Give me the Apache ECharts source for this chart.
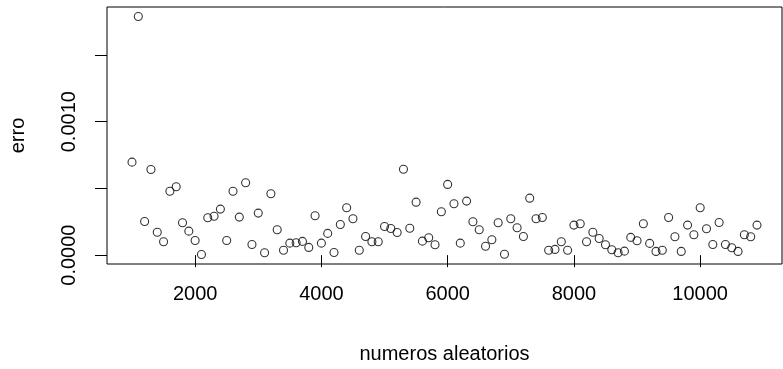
<!DOCTYPE html>
<html>
<head>
<meta charset="utf-8">
<script src="https://cdn.jsdelivr.net/npm/echarts@6/dist/echarts.min.js"></script>
<style>html,body{margin:0;padding:0;background:#fff}#c{width:783px;height:369px}</style>
</head>
<body>
<div id="c"></div>
<script>
var xValues = [1000,1100,1200,1300,1400,1500,1600,1700,1800,1900,2000,2100,2200,2300,2400,2500,2600,2700,2800,2900,3000,3100,3200,3300,3400,3500,3600,3700,3800,3900,4000,4100,4200,4300,4400,4500,4600,4700,4800,4900,5000,5100,5200,5300,5400,5500,5600,5700,5800,5900,6000,6100,6200,6300,6400,6500,6600,6700,6800,6900,7000,7100,7200,7300,7400,7500,7600,7700,7800,7900,8000,8100,8200,8300,8400,8500,8600,8700,8800,8900,9000,9100,9200,9300,9400,9500,9600,9700,9800,9900,10000,10100,10200,10300,10400,10500,10600,10700,10800,10900];
var erro = [0.000697,0.001788,0.000252,0.000642,0.000172,0.000100,0.000479,0.000512,0.000243,0.000180,
0.000110,0.000005,0.000280,0.000292,0.000345,0.000110,0.000479,0.000285,0.000543,0.000080,
0.000315,0.000018,0.000460,0.000190,0.000037,0.000090,0.000093,0.000103,0.000058,0.000295,
0.000090,0.000163,0.000020,0.000230,0.000355,0.000273,0.000037,0.000140,0.000100,0.000100,
0.000215,0.000200,0.000170,0.000644,0.000202,0.000397,0.000105,0.000130,0.000078,0.000325,
0.000530,0.000385,0.000090,0.000405,0.000250,0.000190,0.000067,0.000115,0.000243,0.000007,
0.000273,0.000205,0.000140,0.000427,0.000273,0.000282,0.000037,0.000043,0.000100,0.000037,
0.000225,0.000235,0.000100,0.000172,0.000125,0.000078,0.000040,0.000018,0.000030,0.000133,
0.000108,0.000235,0.000088,0.000028,0.000037,0.000282,0.000138,0.000028,0.000225,0.000153,
0.000355,0.000198,0.000080,0.000245,0.000080,0.000055,0.000028,0.000153,0.000138,0.000225];
var xTicks = [2000,4000,6000,8000,10000];
var yTicks = [0,0.0005,0.0010,0.0015];
var yLabels = [0,0.0010];
var xTitle = 'numeros aleatorios';
var yTitle = 'erro';

function ext(arr){var mn=Math.min.apply(null,arr),mx=Math.max.apply(null,arr),d=(mx-mn)*0.04;return [mn-d,mx+d];}
var xr = ext(xValues), yr = ext(erro);
var pts = xValues.map(function(x,i){return [x,erro[i]];});
var font = 'Liberation Sans, Arial, sans-serif';
var chart = echarts.init(document.getElementById('c'));
chart.setOption({
  animation:false,
  backgroundColor:'#fff',
  grid:{left:106,right:1,top:7,bottom:104,show:true,borderColor:'#000',borderWidth:1,backgroundColor:'transparent'},
  xAxis:{type:'value',min:xr[0],max:xr[1],
    axisLine:{show:false},splitLine:{show:false},
    axisTick:{show:true,inside:false,length:12,lineStyle:{color:'#000',width:1},customValues:xTicks},
    axisLabel:{show:true,margin:20,color:'#000',fontSize:20,fontFamily:font,customValues:xTicks,formatter:function(v){return String(v);}},
    name:xTitle,nameLocation:'middle',nameGap:80,nameTextStyle:{color:'#000',fontSize:20,fontFamily:font}},
  yAxis:{type:'value',min:yr[0],max:yr[1],
    axisLine:{show:false},splitLine:{show:false},
    axisTick:{show:true,inside:false,length:12,lineStyle:{color:'#000',width:1},customValues:yTicks},
    axisLabel:{show:true,rotate:90,margin:28,color:'#000',fontSize:20,fontFamily:font,customValues:yLabels,formatter:function(v){return v.toFixed(4);}},
    name:yTitle,nameLocation:'middle',nameGap:79,nameRotate:90,nameTextStyle:{color:'#000',fontSize:20,fontFamily:font}},
  series:[{type:'scatter',data:pts,symbol:'circle',symbolSize:8,
    itemStyle:{color:'rgba(0,0,0,0)',borderColor:'#000',borderWidth:1.1},
    emphasis:{disabled:true},silent:true}]
});
</script>
</body>
</html>
